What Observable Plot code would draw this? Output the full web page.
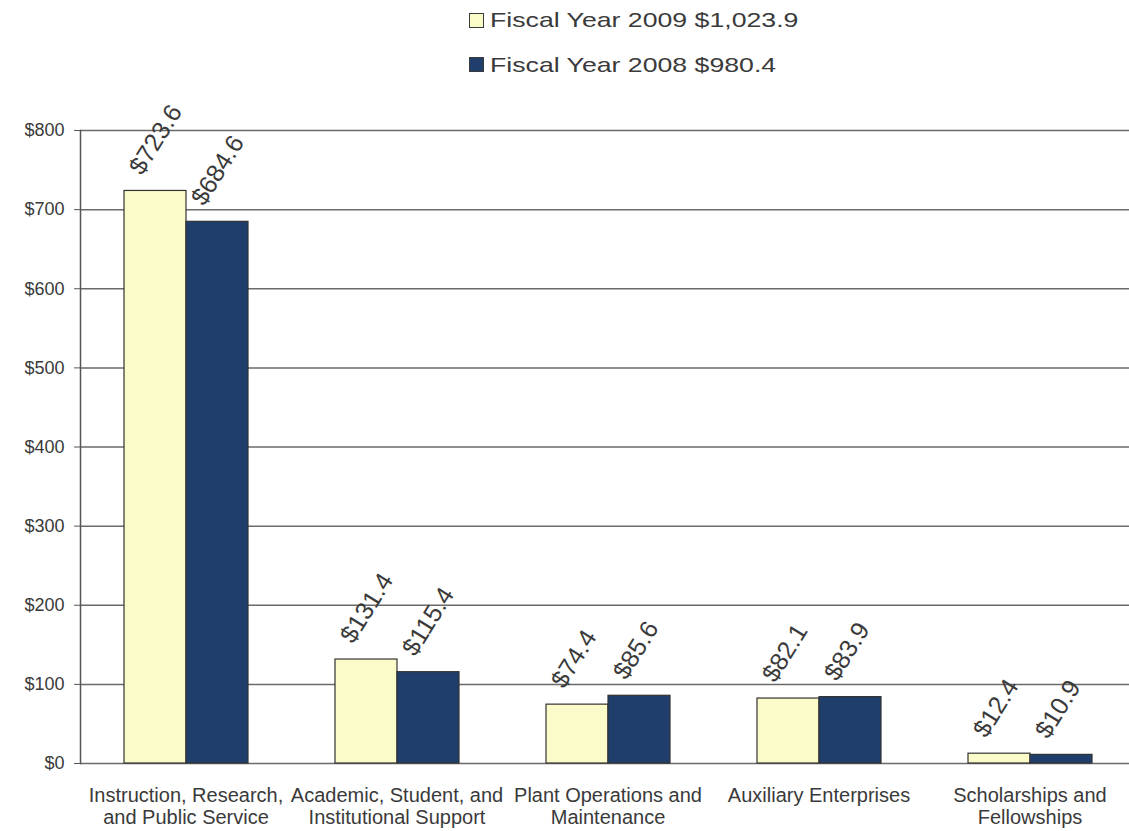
<!DOCTYPE html>
<html>
<head>
<meta charset="utf-8">
<script src="https://cdn.jsdelivr.net/npm/d3@7"></script>
<script src="https://cdn.jsdelivr.net/npm/@observablehq/plot@0.6"></script>
<style>
  body { margin: 0; background: #fff; font-family: "Liberation Sans", Arial, sans-serif; }
  #legend { position: relative; width: 1129px; height: 96px; }
  .sw { position: absolute; left: 469px; width: 13px; height: 13px; border: 1px solid #3a3a3a; }
  .lbl { position: absolute; left: 490px; font-size: 21px; line-height: 21px; color: #3a3a3a;
         white-space: nowrap; transform: scaleX(1.27); transform-origin: left center; }
</style>
</head>
<body>
<div id="legend"></div>
<div id="chart"></div>
<script>
const categories = [
  "Instruction, Research,\nand Public Service",
  "Academic, Student, and\nInstitutional Support",
  "Plant Operations and\nMaintenance",
  "Auxiliary Enterprises",
  "Scholarships and\nFellowships"
];
const series = ["Fiscal Year 2009", "Fiscal Year 2008"];
const seriesTotals = ["$1,023.9", "$980.4"];
const fy2009 = [723.6, 131.4, 74.4, 82.1, 12.4];
const fy2008 = [684.6, 115.4, 85.6, 83.9, 10.9];
const yTicks = [0, 100, 200, 300, 400, 500, 600, 700, 800];
const colors = ["#fbfbc9", "#1f3e6c"];

// legend (HTML, above the SVG)
const legend = document.getElementById("legend");
series.forEach((s, i) => {
  const sw = document.createElement("div");
  sw.className = "sw";
  sw.style.top = (13 + i * 44) + "px";
  sw.style.background = colors[i];
  legend.appendChild(sw);
  const lb = document.createElement("div");
  lb.className = "lbl";
  lb.style.top = (9 + i * 45) + "px";
  lb.textContent = s + " " + seriesTotals[i];
  legend.appendChild(lb);
});

const rows = categories.flatMap((c, i) => [
  {category: c, series: series[0], value: fy2009[i]},
  {category: c, series: series[1], value: fy2008[i]}
]);

const chart = Plot.plot({
  width: 1129,
  height: 735,
  marginTop: 34,
  marginBottom: 68,
  marginLeft: 78,
  marginRight: -8,
  style: {fontFamily: "'Liberation Sans', Arial, sans-serif", color: "#3a3a3a", background: "white", overflow: "visible"},
  fx: {domain: categories, padding: 0, label: null},
  x: {domain: series, paddingInner: 0, paddingOuter: 0.7, axis: null},
  y: {domain: [0, 800], label: null},
  color: {domain: series, range: colors},
  marks: [
    Plot.ruleY(yTicks, {stroke: "#6a6a6a", strokeWidth: 1.5}),
    Plot.frame({anchor: "left", facetAnchor: "left", stroke: "#555", strokeWidth: 1.5}),
    Plot.axisY(yTicks, {anchor: "left", tickSize: 6, tickPadding: 10, fontSize: 18, tickFormat: d => "$" + d, label: null, stroke: "#555"}),
    Plot.axisFx({anchor: "bottom", tickSize: 0, tickPadding: 23, fontSize: 20, lineHeight: 1.1, label: null}),
    Plot.barY(rows, {fx: "category", x: "series", y: "value", fill: "series", stroke: "#333", strokeWidth: 1.2}),
    Plot.text(rows, {
      fx: "category", x: "series", y: "value",
      text: d => "$" + d.value.toFixed(1),
      rotate: -58, textAnchor: "start", lineAnchor: "middle",
      dx: -20, dy: -19, fontSize: 25, fill: "#3a3a3a"
    })
  ]
});
document.getElementById("chart").appendChild(chart);
</script>
</body>
</html>
